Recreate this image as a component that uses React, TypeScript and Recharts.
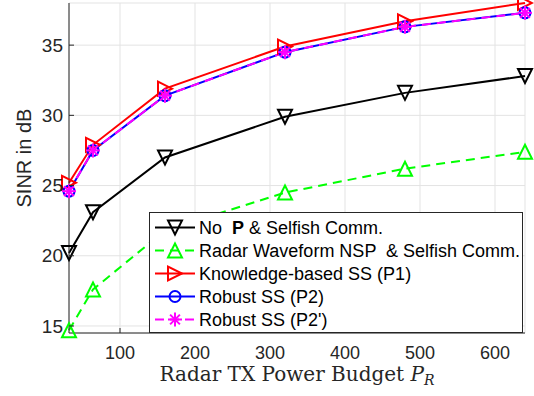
import { LineChart, Line, XAxis, YAxis, CartesianGrid, Legend, Label } from "recharts";

// radar TX power budget (x) and SINR in dB per method
const budget = [32, 64, 160, 320, 480, 640];
const noPrecoding = [20.2, 23.1, 27.0, 29.9, 31.6, 32.8];
const radarNsp = [14.7, 17.6, 21.8, 24.5, 26.2, 27.4];
const knowledgeSS = [25.2, 27.9, 31.9, 34.9, 36.7, 38.0];
const robustSS = [24.6, 27.5, 31.4, 34.5, 36.3, 37.3];
const robustSS2 = [24.6, 27.5, 31.4, 34.5, 36.3, 37.3];

const xTicks = [100, 200, 300, 400, 500, 600];
const yTicks = [15, 20, 25, 30, 35];

const data = budget.map((p, i) => ({
  p,
  noP: noPrecoding[i],
  nsp: radarNsp[i],
  kb: knowledgeSS[i],
  rob: robustSS[i],
  rob2: robustSS2[i],
}));

type Shape = "down" | "up" | "right" | "circle" | "star";

const series: { key: string; color: string; dash?: string; shape: Shape }[] = [
  { key: "noP", color: "#000000", shape: "down" },
  { key: "nsp", color: "#00ff00", dash: "9 6", shape: "up" },
  { key: "kb", color: "#ff0000", shape: "right" },
  { key: "rob", color: "#0000ff", shape: "circle" },
  { key: "rob2", color: "#ff00ff", dash: "9 6", shape: "star" },
];

const AXIS = "#262626";
const GRID = "#e3e3e3";
const SANS = "'Liberation Sans', Arial, Helvetica, sans-serif";
const SERIF = "'DejaVu Serif', 'Liberation Serif', serif";
const TICK_MARGIN = 13;

const Marker = ({ shape, cx, cy, color }: { shape: Shape; cx: number; cy: number; color: string }) => {
  const s = 7;
  const common = { fill: "none", stroke: color, strokeWidth: 2 };
  switch (shape) {
    case "down":
      return <polygon {...common} points={`${cx - s},${cy - s} ${cx + s},${cy - s} ${cx},${cy + s}`} />;
    case "up":
      return <polygon {...common} points={`${cx - s},${cy + s} ${cx + s},${cy + s} ${cx},${cy - s}`} />;
    case "right":
      return <polygon {...common} points={`${cx - s},${cy - s} ${cx - s},${cy + s} ${cx + s},${cy}`} />;
    case "circle":
      return <circle {...common} cx={cx} cy={cy} r={5.5} />;
    default: {
      const d = s * 0.7;
      return (
        <g stroke={color} strokeWidth={2}>
          <line x1={cx - s} x2={cx + s} y1={cy} y2={cy} />
          <line x1={cx} x2={cx} y1={cy - s} y2={cy + s} />
          <line x1={cx - d} x2={cx + d} y1={cy - d} y2={cy + d} />
          <line x1={cx - d} x2={cx + d} y1={cy + d} y2={cy - d} />
        </g>
      );
    }
  }
};

const XTick = (props: any) => {
  const { x, y, payload } = props;
  return (
    <g>
      <line x1={x} x2={x} y1={y - TICK_MARGIN} y2={y - TICK_MARGIN - 5} stroke={AXIS} />
      <text x={x} y={y} dy="0.71em" textAnchor="middle" fill={AXIS} fontSize={18} fontFamily={SANS}>
        {payload.value}
      </text>
    </g>
  );
};

const YTick = (props: any) => {
  const { x, y, payload } = props;
  return (
    <g>
      <line x1={x + 6} x2={x + 11} y1={y} y2={y} stroke={AXIS} />
      <text x={x} y={y} dy="0.35em" textAnchor="end" fill={AXIS} fontSize={19} fontFamily={SANS}>
        {payload.value}
      </text>
    </g>
  );
};

const LegendBox = () => (
  <svg width={374} height={121} style={{ display: "block" }}>
    <rect x={0.5} y={0.5} width={373} height={120} fill="#fff" stroke={AXIS} />
    {series.map((s, i) => {
      const cy = 15.5 + i * 23;
      return (
        <g key={s.key}>
          <line x1={6} x2={46} y1={cy} y2={cy} stroke={s.color} strokeWidth={2} strokeDasharray={s.dash} />
          <Marker shape={s.shape} cx={26} cy={cy} color={s.color} />
          <text x={50} y={cy} dy="0.35em" fontSize={18} fontFamily={SANS} fill="#000" style={{ whiteSpace: "pre" }}>
            {i === 0 ? (
              <>
                {"No  "}
                <tspan fontWeight="bold">P</tspan>
                {" & Selfish Comm."}
              </>
            ) : i === 1 ? (
              "Radar Waveform NSP  & Selfish Comm."
            ) : i === 2 ? (
              "Knowledge-based SS (P1)"
            ) : i === 3 ? (
              "Robust SS (P2)"
            ) : (
              "Robust SS (P2')"
            )}
          </text>
        </g>
      );
    })}
  </svg>
);

export default function App() {
  return (
    <div style={{ position: "absolute", left: 0, top: 0, background: "#fff" }}>
      <LineChart width={534} height={396} data={data} margin={{ top: 3, right: 9, bottom: 0, left: 0 }}>
        <CartesianGrid stroke={GRID} strokeWidth={1} />
        <XAxis
          dataKey="p"
          type="number"
          domain={[32, 640]}
          ticks={xTicks}
          height={63}
          tickSize={0}
          tickMargin={TICK_MARGIN}
          tick={<XTick />}
          axisLine={{ stroke: AXIS }}
        >
          <Label
            content={({ viewBox }: any) => (
              <text
                x={viewBox.x + viewBox.width / 2}
                y={viewBox.y + 48}
                textAnchor="middle"
                fontFamily={SERIF}
                fontSize={20}
                fill={AXIS}
              >
                Radar TX Power Budget{" "}
                <tspan fontStyle="italic">P</tspan>
                <tspan fontSize={14} dy={4} fontStyle="italic">R</tspan>
              </text>
            )}
          />
        </XAxis>
        <YAxis
          type="number"
          domain={[14.5, 38]}
          ticks={yTicks}
          width={69}
          tickSize={0}
          tickMargin={6}
          tick={<YTick />}
          axisLine={{ stroke: AXIS }}
        >
          <Label
            content={({ viewBox }: any) => {
              const cx = viewBox.x + 24;
              const cy = viewBox.y + viewBox.height / 2 - 10;
              return (
                <text
                  x={cx}
                  y={cy}
                  transform={`rotate(-90 ${cx} ${cy})`}
                  textAnchor="middle"
                  dy="0.35em"
                  fontFamily={SANS}
                  fontSize={20}
                  fill={AXIS}
                >
                  SINR in dB
                </text>
              );
            }}
          />
        </YAxis>
        <XAxis
          xAxisId="top"
          orientation="top"
          type="number"
          domain={[32, 640]}
          ticks={xTicks}
          mirror
          height={0}
          tick={false}
          tickSize={5}
          stroke={AXIS}
        />
        <YAxis
          yAxisId="right"
          orientation="right"
          type="number"
          domain={[14.5, 38]}
          ticks={yTicks}
          mirror
          width={0}
          tick={false}
          tickSize={5}
          stroke={AXIS}
        />
        {series.map((s) => (
          <Line
            key={s.key}
            dataKey={s.key}
            stroke={s.color}
            strokeWidth={2}
            strokeDasharray={s.dash}
            isAnimationActive={false}
            dot={(props: any) => (
              <Marker key={`${s.key}-${props.index}`} shape={s.shape} cx={props.cx} cy={props.cy} color={s.color} />
            )}
            activeDot={false}
          />
        ))}
        <Legend
          layout="horizontal"
          verticalAlign="middle"
          align="center"
          content={() => <LegendBox />}
          wrapperStyle={{ position: "absolute", left: 149, top: 212, width: 374, height: 121 }}
        />
      </LineChart>
    </div>
  );
}
